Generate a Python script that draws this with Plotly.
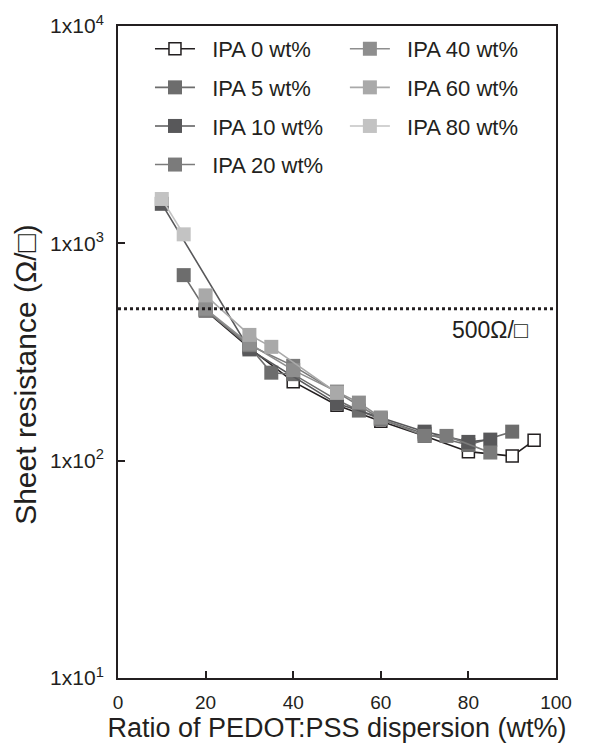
import plotly.graph_objects as go
import math

# ---- data ----
series_names = ["IPA 0 wt%", "IPA 5 wt%", "IPA 10 wt%", "IPA 20 wt%",
                "IPA 40 wt%", "IPA 60 wt%", "IPA 80 wt%"]

ipa0_x = [20, 30, 40, 50, 60, 70, 80, 90, 95]
ipa0_y = [490, 330, 231, 180, 152, 130, 110, 105, 124]

ipa5_x = [15, 20, 30, 35, 40, 50, 55, 60, 70, 80, 90]
ipa5_y = [714, 495, 335, 254, 250, 190, 170, 155, 133, 118, 136]

ipa10_x = [10, 30, 50, 70, 80, 85]
ipa10_y = [1520, 325, 183, 136, 122, 125]

ipa20_x = [20, 30, 40, 60, 70, 75, 85]
ipa20_y = [491, 340, 273, 156, 130, 130, 109]

ipa40_x = [20, 30, 40, 50, 55, 60]
ipa40_y = [500, 345, 261, 208, 185, 158]

ipa60_x = [20, 30, 35, 50]
ipa60_y = [576, 379, 334, 205]

ipa80_x = [10, 15]
ipa80_y = [1600, 1100]

threshold = 500
threshold_label = "500Ω/□"

x_ticks = [0, 20, 40, 60, 80, 100]
y_tickvals = [10, 100, 1000, 10000]
y_ticktext = ["1x10<sup>1</sup>", "1x10<sup>2</sup>", "1x10<sup>3</sup>", "1x10<sup>4</sup>"]

x_title = "Ratio of PEDOT:PSS dispersion (wt%)"
y_title = "Sheet resistance (Ω/□)"

# ---- style ----
INK = "#231f20"
FONT = "Liberation Sans, Arial, sans-serif"
NB = "\u00a0"
colors = ["#231f20", "#6d6d6d", "#58585a", "#7b7b7b", "#8e8e8e", "#a9a9a9", "#c3c3c3"]
fills = ["#ffffff", "#6d6d6d", "#58585a", "#7b7b7b", "#8e8e8e", "#a9a9a9", "#c3c3c3"]
legends = ["legend", "legend", "legend", "legend", "legend2", "legend2", "legend2"]

xs = [ipa0_x, ipa5_x, ipa10_x, ipa20_x, ipa40_x, ipa60_x, ipa80_x]
ys = [ipa0_y, ipa5_y, ipa10_y, ipa20_y, ipa40_y, ipa60_y, ipa80_y]

fig = go.Figure()
for i, name in enumerate(series_names):
    is_open = i == 0
    fig.add_trace(go.Scatter(
        x=xs[i], y=ys[i], name=NB * 2 + name, mode="lines+markers",
        line=dict(color=colors[i], width=1.6),
        marker=dict(symbol="square", size=12 if is_open else 14,
                    color=fills[i],
                    line=dict(color=INK if is_open else fills[i], width=1.5 if is_open else 0)),
        legend=legends[i], legendgroup=name,
    ))

fig.add_shape(type="line", xref="paper", x0=0, x1=1, yref="y", y0=threshold, y1=threshold,
              line=dict(color=INK, width=3, dash="dot"))
fig.add_annotation(x=94, y=math.log10(400), xref="x", yref="y", text=threshold_label,
                   showarrow=False, xanchor="right", yanchor="middle",
                   font=dict(family=FONT, size=23, color=INK))
# y-axis title (as rotated annotation so it can sit slightly below centre, like the reference)
fig.add_annotation(x=-0.21, y=0.465, xref="paper", yref="paper", text=y_title,
                   textangle=-90, showarrow=False, xanchor="center", yanchor="middle",
                   font=dict(family=FONT, size=30, color=INK))

legend_common = dict(bgcolor="rgba(0,0,0,0)", borderwidth=0, itemwidth=40,
                     tracegroupgap=7, font=dict(family=FONT, size=22, color=INK),
                     xanchor="left", yanchor="top", itemclick=False)
fig.update_layout(
    width=590, height=749,
    margin=dict(l=118, r=34, t=23, b=70),
    paper_bgcolor="white", plot_bgcolor="white",
    font=dict(family=FONT, color=INK),
    legend=dict(x=0.073, y=0.997, **legend_common),
    legend2=dict(x=0.518, y=0.997, **legend_common),
    xaxis=dict(range=[0, 100], tickvals=x_ticks, ticks="inside", ticklen=7, tickwidth=1.5,
               tickcolor=INK, showline=True, linecolor=INK, linewidth=2, mirror=True,
               showgrid=False, zeroline=False, ticklabelstandoff=6,
               tickfont=dict(family=FONT, size=19, color=INK),
               title=dict(text=NB + x_title, standoff=5,
                          font=dict(family=FONT, size=27, color=INK))),
    yaxis=dict(type="log", range=[1, 4], tickvals=y_tickvals, ticktext=y_ticktext,
               ticks="inside", ticklen=7, tickwidth=1.5, tickcolor=INK,
               showline=True, linecolor=INK, linewidth=2, mirror=True,
               showgrid=False, zeroline=False, ticklabelstandoff=8,
               tickfont=dict(family=FONT, size=21, color=INK)),
)

fig.write_html("out.html", config={"displayModeBar": False},
               post_script="document.body.style.margin='0';")
